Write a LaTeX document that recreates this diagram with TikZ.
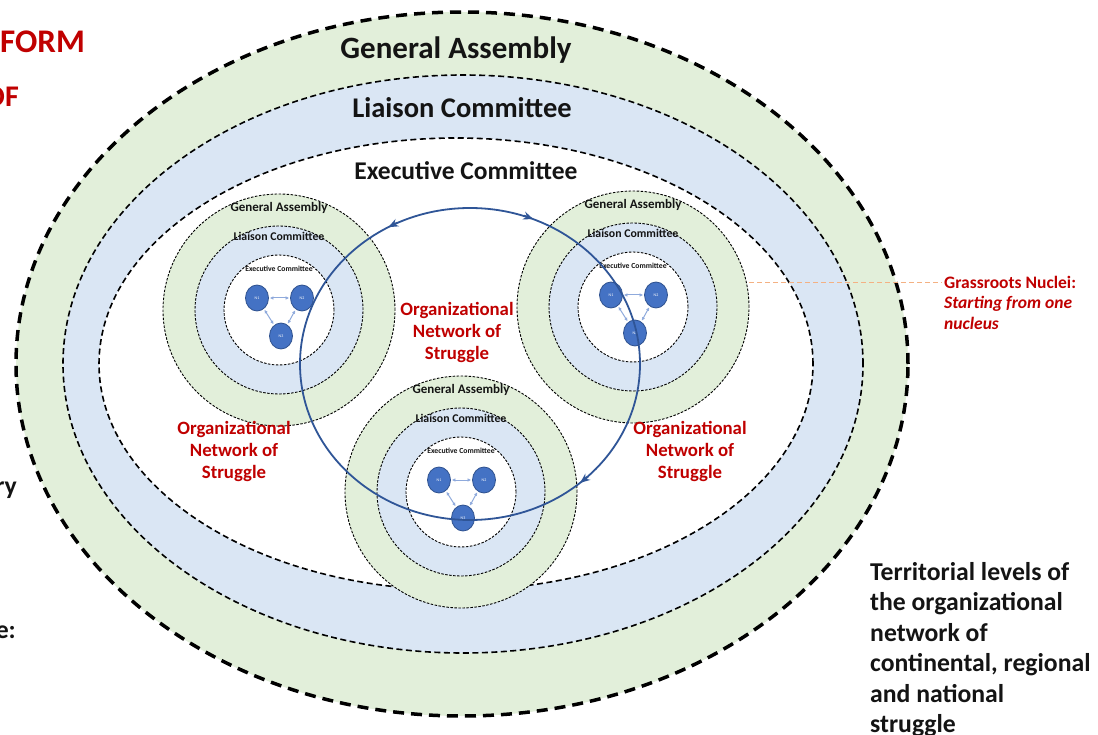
\documentclass[tikz,border=0pt]{standalone}
\usepackage{fontspec}
\setmainfont{Carlito}
\usetikzlibrary{arrows.meta,shapes.geometric}
\definecolor{gagreen}{HTML}{E2EFDA}
\definecolor{lcblue}{HTML}{DAE6F4}
\definecolor{nucfill}{HTML}{4472C4}
\definecolor{nucline}{HTML}{2F528F}
\definecolor{netblue}{HTML}{2F5597}
\definecolor{linkblue}{HTML}{8FAADC}
\definecolor{darkred}{HTML}{C00000}
\definecolor{orangeline}{HTML}{F4B183}
\definecolor{txt}{HTML}{141414}
\newcommand{\orggroup}[3]{%
  \begin{scope}[shift={(#2,#3)}]
    \fill[gagreen] (0,0) circle[radius=116pt];
    \fill[lcblue] (0,0) circle[radius=84pt];
    \fill[white] (0,0) circle[radius=55pt];
    \draw[smalldash] (0,0) circle[radius=116pt];
    \draw[smalldash] (0,0) circle[radius=84pt];
    \draw[smalldash] (0,0) circle[radius=55pt];
    \node[sga] (#1ga) at (0,-102) {General Assembly};
    \node[slc] (#1lc) at (0,-74) {Liaison Committee};
    \node[sec] (#1ec) at (0,-41) {Executive Committee};
    \node[nuc] (#1n1) at (-22,-12) {N1};
    \node[nuc] (#1n2) at (23,-12) {N2};
    \node[nuc] (#1n3) at (2,26) {N3};
    \draw[link] (#1n1) -- (#1n2);
    \draw[link] (#1n1) -- (#1n3);
    \draw[link] (#1n2) -- (#1n3);
  \end{scope}}
\begin{document}
\begin{tikzpicture}[x=1pt,y=-1pt,
  bigdash/.style={draw=black, line width=3.5pt, dash pattern=on 11pt off 7pt},
  middash/.style={draw=black, line width=1.6pt, dash pattern=on 6pt off 3.5pt},
  smalldash/.style={draw=black, line width=0.9pt, dash pattern=on 2.5pt off 1.5pt},
  biglbl/.style={font=\bfseries\fontsize{31}{36}\selectfont, text=txt},
  midlbl/.style={font=\bfseries\fontsize{28.5}{33}\selectfont, text=txt},
  exlbl/.style={font=\bfseries\fontsize{25.5}{30}\selectfont, text=txt},
  sga/.style={font=\bfseries\fontsize{13}{15}\selectfont, text=txt, inner sep=0pt},
  slc/.style={font=\bfseries\fontsize{11.8}{14}\selectfont, text=txt, inner sep=0pt},
  sec/.style={font=\bfseries\fontsize{7.7}{9}\selectfont, text=txt, inner sep=0pt},
  nuc/.style={ellipse, fill=nucfill, draw=nucline, line width=0.8pt, minimum width=23pt, minimum height=26pt, inner sep=0pt, text=white, font=\fontsize{4}{5}\selectfont},
  link/.style={linkblue, line width=1pt, {Latex[length=3.5pt,width=3.5pt]}-{Latex[length=3.5pt,width=3.5pt]}, shorten >=1pt, shorten <=1pt},
  netline/.style={netblue, line width=1.8pt},
  nettip/.style={netblue, line width=1.8pt, -{Stealth[length=10pt,width=8pt]}},
  redlbl/.style={font=\bfseries\fontsize{18.8}{22}\selectfont, text=darkred, align=center},
  sidelbl/.style={font=\bfseries\fontsize{25.7}{30.5}\selectfont, text=txt, align=left},
]
\useasboundingbox (0,0) rectangle (1098,735);
\fill[white] (0,0) rectangle (1098,735);
% big nested ellipses
\coordinate (gac) at (462,364);
\coordinate (lcc) at (463,364);
\coordinate (ecc) at (456,364);
\fill[gagreen] (gac) ellipse[x radius=446pt, y radius=352pt];
\fill[lcblue] (lcc) ellipse[x radius=400pt, y radius=289pt];
\fill[white] (ecc) ellipse[x radius=357pt, y radius=226pt];
\draw[bigdash] (gac) ellipse[x radius=446pt, y radius=352pt];
\draw[middash] (lcc) ellipse[x radius=400pt, y radius=289pt];
\draw[middash] (ecc) ellipse[x radius=357pt, y radius=226pt];
\node[biglbl] (GA) at (456,50) {General Assembly};
\node[midlbl] (LC) at (462,108) {Liaison Committee};
\node[exlbl] (EC) at (466,171) {Executive Committee};
% groups
\orggroup{A}{279}{310}
\orggroup{B}{633}{307}
\orggroup{C}{461}{492}
% network ellipse
\coordinate (netc) at (470,364);
\draw[netline] (netc) ellipse[x radius=170pt, y radius=156pt];
\coordinate (t1s) at (397.2,222.7); \coordinate (t1e) at (388.3,227.2);
\coordinate (t2s) at (523.9,215.6); \coordinate (t2e) at (533.3,219.1);
\coordinate (t3s) at (587.9,476.7); \coordinate (t3e) at (580.0,482.9);
\draw[nettip] (t1s) -- (t1e);
\draw[nettip] (t2s) -- (t2e);
\draw[nettip] (t3s) -- (t3e);
% red labels
\node[redlbl] (onc) at (457,332) {Organizational\\Network of\\Struggle};
\node[redlbl] (onl) at (234,451) {Organizational\\Network of\\Struggle};
\node[redlbl] (onr) at (690,451) {Organizational\\Network of\\Struggle};
% grassroots
\node[anchor=north west, align=left, inner sep=0pt, text=darkred, font=\bfseries\fontsize{17.5}{20.5}\selectfont] (gn) at (944,276) {Grassroots Nuclei:\\\itshape Starting from one\\\itshape nucleus};
\coordinate (gnl) at (942,283);
\coordinate (bedge) at (749,283);
\draw[orangeline, line width=1pt, dash pattern=on 5pt off 3pt] (bedge) -- (gnl);
% side text
\node[sidelbl, anchor=north west, inner sep=0pt] (terr) at (870,562) {Territorial levels of\\the organizational\\network of\\continental, regional\\and national\\struggle};
% cut-off texts at left edge
\node[anchor=west, inner sep=0pt, text=darkred, font=\bfseries\fontsize{33}{38}\selectfont] (form) at (0,42) {FORM};
\node[anchor=east, inner sep=0pt, text=darkred, font=\bfseries\fontsize{30}{34}\selectfont] (of) at (19,97) {OF};
\node[anchor=east, inner sep=0pt, text=txt, font=\bfseries\fontsize{25.7}{30}\selectfont] (ry) at (17,490) {ry};
\node[anchor=east, inner sep=0pt, text=txt, font=\bfseries\fontsize{25.7}{30}\selectfont] (ecol) at (16,632) {e:};
\end{tikzpicture}
\end{document}
